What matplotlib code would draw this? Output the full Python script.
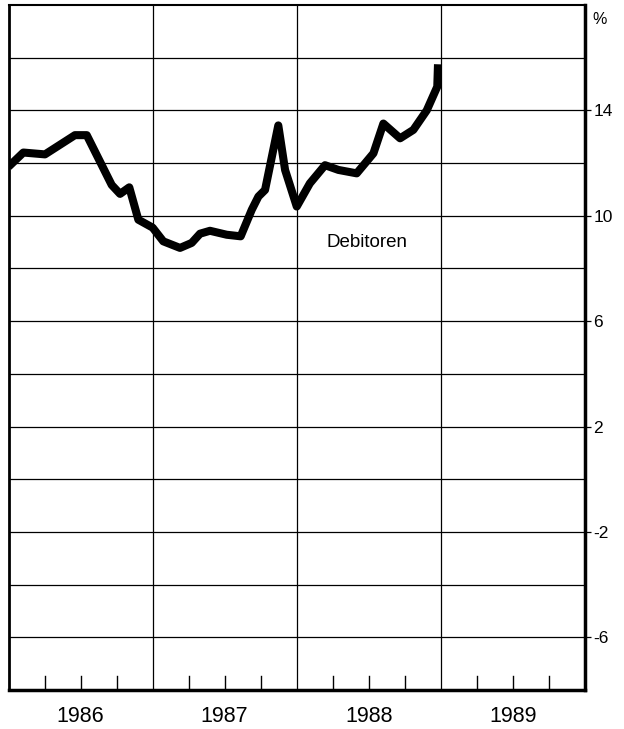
import matplotlib
matplotlib.use("Agg")
import matplotlib.pyplot as plt

# Debitoren, Veraenderung in %, x in years since 1986
t = [0.0, 0.103, 0.253, 0.461, 0.543, 0.716, 0.774, 0.838, 0.901, 1.0,
     1.074, 1.190, 1.271, 1.329, 1.398, 1.514, 1.611, 1.688, 1.734, 1.780,
     1.872, 1.919, 2.0, 2.091, 2.196, 2.289, 2.416, 2.532, 2.601, 2.717,
     2.809, 2.902, 2.975, 2.98]
debitoren = [11.86, 12.4, 12.33, 13.06, 13.06, 11.17, 10.83, 11.08, 9.85, 9.55,
             9.03, 8.78, 8.97, 9.32, 9.43, 9.28, 9.22, 10.23, 10.73, 10.98,
             13.43, 11.74, 10.35, 11.23, 11.92, 11.74, 11.61, 12.37, 13.5, 12.94,
             13.26, 14.0, 14.9, 15.75]

years = [1986, 1987, 1988, 1989]
ytick_vals = [14, 10, 6, 2, -2, -6]

plt.rcParams['font.family'] = ['Liberation Sans', 'DejaVu Sans']

fig = plt.figure(figsize=(6.24, 7.29), dpi=100)
ax = fig.add_axes([8.5 / 624, 1 - 690 / 729, (585 - 8.5) / 624, (690 - 5) / 729])

x = [years[0] + v for v in t]
ax.plot(x, debitoren, color='black', lw=5.8, solid_joinstyle='round',
        solid_capstyle='butt', zorder=3)

ax.set_xlim(1986, 1990)
ax.set_ylim(-8, 18)

# grid
for yv in range(-6, 18, 2):
    ax.axhline(yv, color='black', lw=0.9, zorder=1)
for yr in years[1:]:
    ax.axvline(yr, color='black', lw=0.9, zorder=1)

# quarter ticks inside from the bottom
for yr in years:
    for q in (0.25, 0.5, 0.75):
        ax.plot([yr + q, yr + q], [-8, -7.45], color='black', lw=1.0, zorder=2)

ax.set_xticks([])
for yr in years:
    ax.text(yr + 0.5, -9.0, str(yr), ha='center', va='center', fontsize=15.5)

ax.yaxis.tick_right()
ax.set_yticks(ytick_vals)
ax.set_yticklabels([str(v) for v in ytick_vals], fontsize=12.5)
ax.tick_params(axis='y', direction='out', length=4, width=0.9, pad=2)
ax.tick_params(axis='y', which='both', left=False)

ax.text(1.012, 0.99, '%', transform=ax.transAxes, ha='left', va='top', fontsize=11.5)
ax.text(1988.49, 9.0, 'Debitoren', ha='center', va='center', fontsize=13.5)

ax.spines['left'].set_linewidth(2.0)
ax.spines['bottom'].set_linewidth(2.5)
ax.spines['right'].set_linewidth(2.5)
ax.spines['top'].set_linewidth(1.5)

fig.savefig('out.png', dpi=100)
